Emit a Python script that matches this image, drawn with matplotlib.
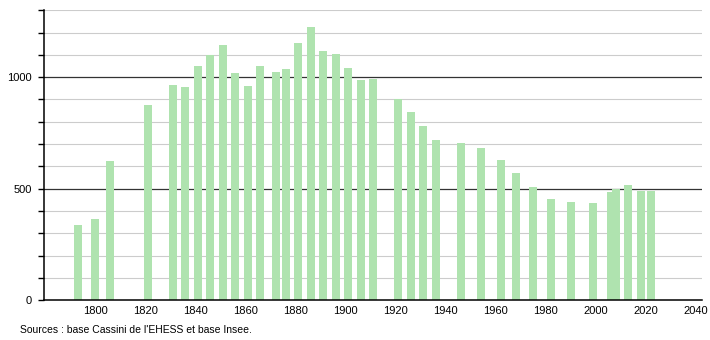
import matplotlib.pyplot as plt
from matplotlib.ticker import MultipleLocator

# census years and population
years = [1793, 1800, 1806, 1821, 1831, 1836, 1841, 1846, 1851, 1856,
         1861, 1866, 1872, 1876, 1881, 1886, 1891, 1896, 1901, 1906,
         1911, 1921, 1926, 1931, 1936, 1946, 1954, 1962, 1968, 1975,
         1982, 1990, 1999, 2006, 2008, 2013, 2018, 2022]
population = [338, 365, 622, 876, 965, 955, 1051, 1097, 1145, 1019,
              962, 1051, 1025, 1037, 1152, 1226, 1115, 1105, 1040, 987,
              991, 900, 844, 782, 719, 704, 684, 629, 570, 508,
              454, 441, 435, 483, 499, 517, 490, 490]

x_ticks = [1800, 1820, 1840, 1860, 1880, 1900, 1920, 1940, 1960, 1980, 2000, 2020, 2040]
y_labels = [0, 500, 1000]

plt.rcParams['font.family'] = ['Liberation Sans', 'DejaVu Sans']

fig = plt.figure(figsize=(7.1, 3.4), dpi=100)
ax = fig.add_axes([0.062, 0.117, 0.927, 0.853])

# horizontal grid lines: light every 100, dark every 500
for v in range(100, 1400, 100):
    if v % 500 == 0:
        ax.axhline(v, color='#333333', lw=0.9, zorder=1)
    else:
        ax.axhline(v, color='#cccccc', lw=0.8, zorder=1)

ax.bar(years, population, width=3.2, color='#afe3af', zorder=2)

ax.set_xlim(1779.5, 2042.5)
ax.set_ylim(0, 1300)

ax.spines['top'].set_visible(False)
ax.spines['right'].set_visible(False)
ax.spines['left'].set_linewidth(1.1)
ax.spines['bottom'].set_linewidth(1.1)

ax.set_xticks(x_ticks)
ax.tick_params(axis='x', length=0, labelsize=8, pad=4)
ax.set_yticks(y_labels)
ax.yaxis.set_minor_locator(MultipleLocator(100))
ax.tick_params(axis='y', which='both', length=4, width=1, labelsize=8, pad=5)

fig.text(0.028, 0.022, "Sources : base Cassini de l'EHESS et base Insee.", fontsize=7.5)

plt.savefig('out.png', dpi=100)
